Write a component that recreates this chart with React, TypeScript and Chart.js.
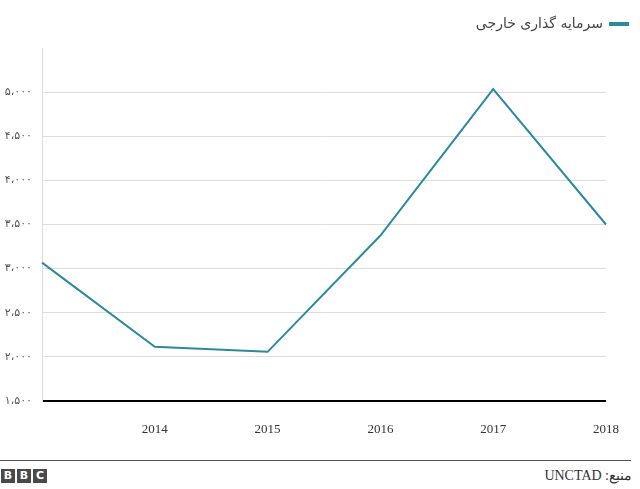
import React, { useEffect, useRef } from "react";
import { Chart, registerables } from "chart.js";

Chart.register(...registerables);

const years = ["2013", "2014", "2015", "2016", "2017", "2018"];
const investment = [3068, 2114, 2057, 3375, 5034, 3500];
const seriesLabel = "سرمایه گذاری خارجی";
const sourceText = "منبع: UNCTAD";
const yMin = 1500;
const yMax = 5500;
const yStep = 500;

const faDigits = "۰۱۲۳۴۵۶۷۸۹";
function toPersian(n: number): string {
  const s = Math.round(n).toString();
  const withSep = s.replace(/\B(?=(\d{3})+(?!\d))/g, "،");
  return withSep.replace(/\d/g, (d) => faDigits[parseInt(d, 10)]);
}

const LINE = "#2b8a9f";

const legendGap = {
  id: "legendGap",
  beforeInit(chart: any) {
    const lg = chart.legend;
    if (!lg) return;
    const fit = lg.fit;
    lg.fit = function (this: any) {
      fit.call(this);
      this.height += 7;
    };
  },
};

export default function App() {
  const ref = useRef<HTMLCanvasElement | null>(null);

  useEffect(() => {
    if (!ref.current) return;
    const chart = new Chart(ref.current, {
      type: "line",
      data: {
        labels: years,
        datasets: [
          {
            label: seriesLabel,
            data: investment,
            borderColor: LINE,
            backgroundColor: LINE,
            borderWidth: 2,
            pointRadius: 0,
            tension: 0,
          },
        ],
      },
      plugins: [legendGap],
      options: {
        animation: false,
        responsive: true,
        maintainAspectRatio: false,
        layout: { padding: { top: 5, right: 0, left: 0, bottom: 0 } },
        plugins: {
          tooltip: { enabled: false },
          legend: {
            display: true,
            position: "top",
            align: "start",
            rtl: true,
            labels: {
              boxWidth: 18,
              boxHeight: 2,
              padding: 12,
              color: "#444",
              font: { family: "'DejaVu Sans', sans-serif", size: 14 },
            },
          },
        },
        scales: {
          x: {
            offset: false,
            grid: { display: false },
            border: { display: false },
            ticks: {
              padding: 13,
              color: "#333",
              maxRotation: 0,
              autoSkip: false,
              font: { family: "'Liberation Serif', serif", size: 13 },
              callback: (_v: any, i: number) => (i === 0 ? "" : years[i]),
            },
            afterFit: (s: any) => {
              s.height = 49;
            },
          },
          y: {
            min: yMin,
            max: yMax,
            border: { display: true, color: "#ddd", width: 1 },
            grid: {
              drawTicks: false,
              color: (c: any) =>
                c.tick && c.tick.value === yMin
                  ? "#000"
                  : c.tick && c.tick.value === yMax
                  ? "rgba(0,0,0,0)"
                  : "#dddddd",
              lineWidth: (c: any) => (c.tick && c.tick.value === yMin ? 2 : 1),
            },
            ticks: {
              stepSize: yStep,
              padding: 10,
              color: "#555",
              font: { family: "'DejaVu Sans', sans-serif", size: 11 },
              callback: (v: any) => (Number(v) === yMax ? "" : toPersian(Number(v))),
            },
            afterFit: (s: any) => {
              s.width = 42;
            },
          },
          yRight: {
            type: "linear",
            position: "right",
            display: true,
            grid: { display: false, drawTicks: false },
            border: { display: false },
            ticks: { display: false },
            afterFit: (s: any) => {
              s.width = 34;
            },
          },
        },
      },
    });
    return () => chart.destroy();
  }, []);

  return (
    <div
      style={{
        position: "fixed",
        left: 0,
        top: 0,
        width: 640,
        height: 489,
        background: "#fff",
        overflow: "hidden",
      }}
    >
      <div style={{ position: "absolute", left: 0, top: 0, width: 640, height: 450 }}>
        <canvas ref={ref} />
      </div>
      <div
        style={{
          position: "absolute",
          left: 0,
          top: 460,
          width: 631,
          height: 1,
          background: "#555",
        }}
      />
      <div style={{ position: "absolute", left: 1, top: 469, display: "flex", gap: 2 }}>
        {["B", "B", "C"].map((ch, i) => (
          <div
            key={i}
            style={{
              width: 14,
              height: 14,
              background: "#4a4a4a",
              color: "#fff",
              fontFamily: "'DejaVu Sans', sans-serif",
              fontWeight: "bold",
              fontSize: 11,
              lineHeight: "14px",
              textAlign: "center",
            }}
          >
            {ch}
          </div>
        ))}
      </div>
      <div
        dir="rtl"
        style={{
          position: "absolute",
          right: 8,
          top: 467,
          fontFamily: "'Liberation Serif', serif",
          fontSize: 14,
          color: "#333",
          whiteSpace: "nowrap",
        }}
      >
        {sourceText}
      </div>
    </div>
  );
}
